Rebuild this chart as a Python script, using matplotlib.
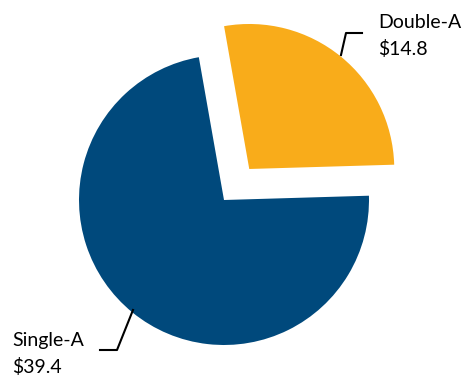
import matplotlib
matplotlib.use("Agg")
import matplotlib.pyplot as plt

labels = ["Double-A", "Single-A"]
values = [14.8, 39.4]
colors = ["#F9AC1A", "#00497C"]
explode = [40, 0]  # pie() explode is in data units here (pixels)

W, H = 463, 375

fig = plt.figure(figsize=(W / 100, H / 100), dpi=100)
ax = fig.add_axes([0, 0, 1, 1])

# pie center / radius in pixel coords (y flipped)
ax.pie(values, colors=colors, explode=explode, startangle=100, counterclock=False,
       center=(224, H - 200), radius=145, wedgeprops=dict(linewidth=0))
ax.set_xlim(0, W)
ax.set_ylim(0, H)
ax.set_aspect("equal")
ax.axis("off")

font = dict(family="Lato", fontsize=14, color="black")
ax.text(378, H - 14, f"{labels[0]}\n${values[0]:.1f}", ha="left", va="top", linespacing=1.6, **font)
ax.text(12, H - 332, f"{labels[1]}\n${values[1]:.1f}", ha="left", va="top", linespacing=1.6, **font)

# leader lines
ax.plot([362, 346, 341], [H - 33, H - 33, H - 55], color="black", lw=1.5)
ax.plot([100, 117, 133], [H - 350, H - 350, H - 310], color="black", lw=1.5)

fig.savefig("out.png", dpi=100)
